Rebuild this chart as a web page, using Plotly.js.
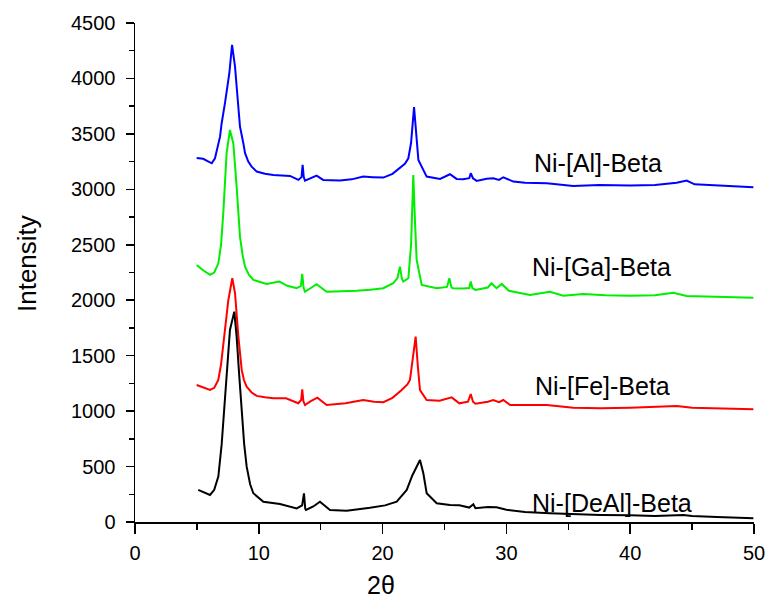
<!DOCTYPE html>
<html>
<head>
<meta charset="utf-8">
<script src="https://cdn.plot.ly/plotly-3.0.1.min.js"></script>
<style>html,body{margin:0;padding:0;background:#fff;}#chart{width:768px;height:603px;}</style>
</head>
<body>
<div id="chart"></div>
<script>
// Ni-[Al]-Beta (blue)
const alX = [4.98,5.5,6.2,6.46,6.87,7.0,7.27,7.46,7.62,7.84,8.08,8.21,8.35,8.48,8.75,8.89,9.15,9.42,9.83,10.5,11.17,12.0,12.52,13.2,13.45,13.54,13.63,13.73,14.2,14.67,15.2,16.56,17.5,18.44,19.2,20.06,20.8,21.4,21.8,22.08,22.3,22.54,22.7,22.89,23.56,24.64,25.44,25.98,26.5,27.0,27.12,27.3,27.6,28.4,28.94,29.4,29.75,30.56,31.5,33.26,35.4,37.5,40,42,43.75,44.56,45.2,47,49.95];
const alY = [3283,3275,3235,3280,3475,3596,3780,3927,4047,4303,4107,3927,3687,3566,3416,3326,3250,3205,3160,3140,3130,3125,3121,3085,3110,3220,3110,3079,3100,3124,3085,3079,3090,3115,3110,3106,3140,3190,3230,3280,3420,3741,3480,3265,3115,3094,3136,3094,3090,3100,3145,3100,3076,3095,3100,3085,3109,3070,3060,3055,3031,3040,3035,3040,3060,3079,3045,3035,3019];

// Ni-[Ga]-Beta (green)
const gaX = [4.98,5.5,6.06,6.4,6.73,6.95,7.13,7.4,7.67,7.94,8.21,8.48,8.7,8.89,9.2,9.56,10.64,11.66,12.3,13.06,13.4,13.51,13.62,13.73,14.2,14.67,15.48,16.5,17.9,19,20.06,20.86,21.2,21.4,21.55,21.67,22.08,22.3,22.48,22.62,22.75,23.16,24.37,25.2,25.39,25.55,25.66,26.5,27.0,27.12,27.25,27.5,28.5,28.8,29.2,29.62,30.2,31.9,33.52,34.6,36.2,38,40,42,43.48,44.56,47,49.95];
const gaY = [2318,2270,2228,2250,2333,2500,2784,3326,3536,3416,3024,2573,2400,2303,2230,2183,2147,2168,2130,2108,2130,2237,2110,2077,2110,2144,2077,2080,2086,2095,2108,2153,2200,2303,2200,2168,2198,2500,3130,2700,2363,2138,2108,2120,2198,2120,2108,2105,2110,2168,2110,2093,2115,2153,2108,2147,2085,2048,2077,2040,2057,2045,2040,2045,2068,2039,2030,2023];

// Ni-[Fe]-Beta (red)
const feX = [4.98,5.5,6.06,6.4,6.73,6.95,7.13,7.54,7.86,8.08,8.35,8.62,8.8,9.02,9.4,9.83,10.5,11.17,12.2,13.19,13.42,13.51,13.6,13.73,14.2,14.73,15.48,17,18.44,19.3,20.06,20.8,21.54,22.0,22.21,22.45,22.67,22.85,23.02,23.56,24.6,25.58,26.2,26.9,27.12,27.3,27.5,28.5,28.94,29.4,29.75,30.3,31.5,33.26,35.4,37.6,40,42,43.75,45,47,49.95];
const feY = [1236,1215,1191,1210,1281,1420,1612,2002,2198,2063,1672,1371,1280,1220,1170,1137,1125,1116,1116,1071,1100,1197,1090,1055,1090,1121,1055,1070,1100,1085,1080,1120,1190,1240,1281,1500,1672,1400,1190,1100,1094,1124,1070,1085,1154,1085,1067,1085,1100,1080,1100,1055,1055,1055,1031,1025,1030,1035,1046,1030,1025,1016];

// Ni-[DeAl]-Beta (black)
const deX = [5.11,5.5,6.06,6.4,6.73,7.0,7.27,7.67,8.02,8.21,8.42,8.62,8.82,9.02,9.3,9.56,10.37,11.71,13.06,13.5,13.65,13.75,13.81,14.4,14.94,15.75,17.1,18.98,20.2,21.14,21.95,22.4,22.75,23.02,23.29,23.56,24.37,25.44,26.2,27.0,27.33,27.5,28.5,29.2,30,31.5,33.5,35.5,37.6,40,42,44.3,45,47,49.95];
const deY = [289,270,244,290,409,700,1130,1732,1897,1672,1320,980,700,499,340,259,183,162,123,150,259,120,108,140,183,108,102,129,150,183,289,420,499,559,439,259,169,153,150,130,160,125,135,132,110,90,78,70,63,60,55,63,55,45,33];

const labels = ["Ni-[Al]-Beta","Ni-[Ga]-Beta","Ni-[Fe]-Beta","Ni-[DeAl]-Beta"];
const labelX = [37.4,37.7,37.8,38.5];
const labelY = [3238,2300,1227,171];

const colors = ["#0000ff","#00ee00","#ff0000","#000000"];
const seriesX = [alX,gaX,feX,deX];
const seriesY = [alY,gaY,feY,deY];

const traces = seriesX.map((xs,i)=>({
  x: xs, y: seriesY[i], type:'scatter', mode:'lines', name: labels[i],
  line:{color:colors[i], width:2}, hoverinfo:'skip'
}));

const font = "Liberation Sans, Arial, sans-serif";
const annotations = labels.map((t,i)=>({
  x: labelX[i], y: labelY[i], xref:'x', yref:'y', text:t, showarrow:false,
  font:{family:font, size:25, color:'#000'}, xanchor:'center', yanchor:'middle'
}));
annotations.push({
  x:(381-135)/(754-135), y:-(585-522)/(522-23), xref:'paper', yref:'paper', text:'2θ', showarrow:false,
  font:{family:font, size:25, color:'#000'}, xanchor:'center', yanchor:'middle'
});
annotations.push({
  x:-(135-27)/(754-135), y:(522-263)/(522-23), xref:'paper', yref:'paper', text:'Intensity', showarrow:false,
  textangle:-90, font:{family:font, size:26, color:'#000'}, xanchor:'center', yanchor:'middle'
});

const layout = {
  width:768, height:603,
  margin:{l:135, r:14, t:23, b:81},
  paper_bgcolor:'#fff', plot_bgcolor:'#fff',
  showlegend:false,
  font:{family:font, color:'#000'},
  xaxis:{
    range:[0,50], tickmode:'linear', tick0:0, dtick:10,
    showgrid:false, zeroline:false, showline:true, linecolor:'#000', linewidth:1.5,
    ticks:'outside', ticklen:10, tickwidth:1.5, tickcolor:'#000',
    tickfont:{family:font, size:20, color:'#000'}, ticklabelstandoff:2,
    minor:{dtick:5, tick0:0, ticks:'outside', ticklen:6, tickwidth:1.5, tickcolor:'#000', showgrid:false}
  },
  yaxis:{
    range:[0,4500], tickmode:'linear', tick0:0, dtick:500,
    showgrid:false, zeroline:false, showline:true, linecolor:'#000', linewidth:1.5,
    ticks:'outside', ticklen:8, tickwidth:1.5, tickcolor:'#000',
    tickfont:{family:font, size:20, color:'#000'}, ticklabelstandoff:6,
    minor:{dtick:250, tick0:0, ticks:'outside', ticklen:5, tickwidth:1.5, tickcolor:'#000', showgrid:false}
  },
  annotations: annotations
};

Plotly.newPlot('chart', traces, layout, {displayModeBar:false, staticPlot:true});
</script>
</body>
</html>
